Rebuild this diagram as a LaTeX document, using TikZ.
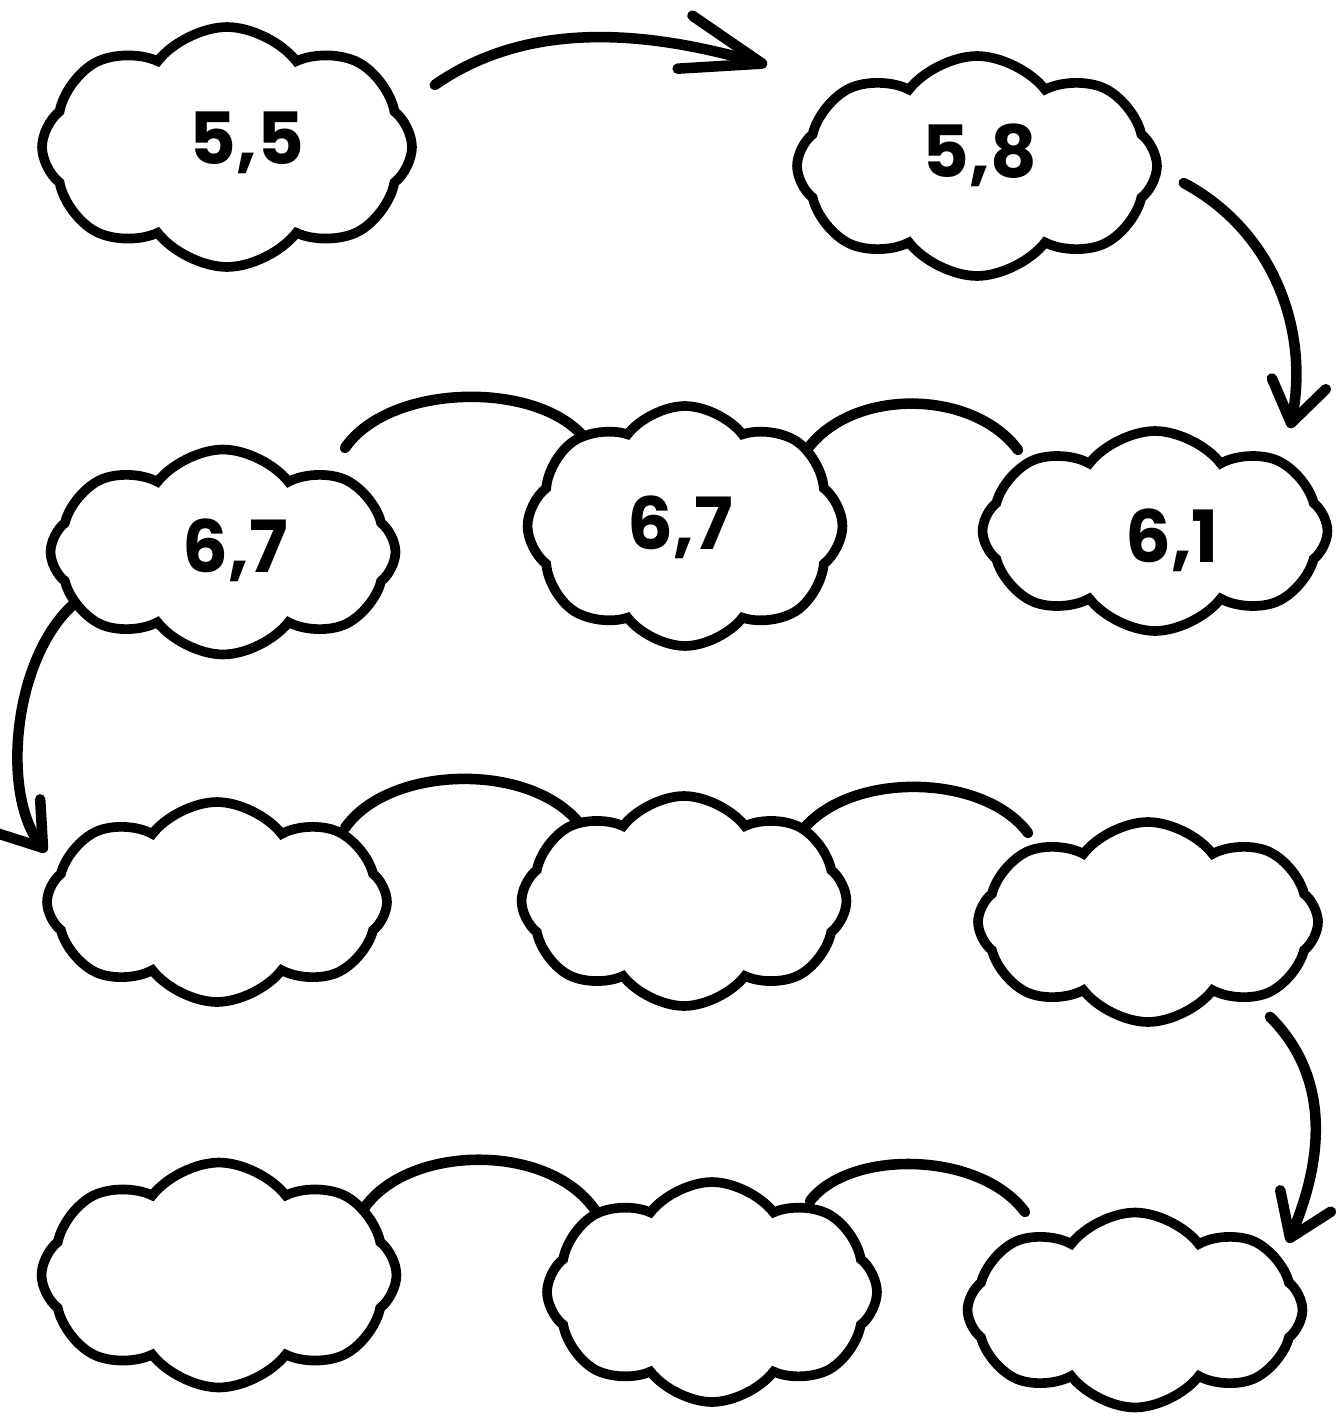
\documentclass[tikz,border=0pt]{standalone}
\usepackage{fontspec}
\newfontfamily\numfont{Poppins}
\usetikzlibrary{positioning,arrows,arrows.meta,shapes.symbols,backgrounds}

\begin{document}
\begin{tikzpicture}[x=0.02cm,y=-0.02cm,
  every node/.style={align=center},
  blob/.style={cloud,draw,fill=white,line width=5.5pt,cloud puffs=8,cloud puff arc=105,aspect=1.6,inner sep=0pt},
  val/.style={font=\numfont\bfseries\fontsize{41}{45}\selectfont},
  link/.style={line width=6pt,line cap=round},
  jump/.style={link,-{Straight Barb[length=0.8cm,width=1.1cm,round]}}
]
\useasboundingbox (0,0) rectangle (1339,1416);

% row 1
\node[blob,minimum width=7.4cm,minimum height=4.8cm] (c55) at (227,147) {};
\node[blob,minimum width=7.2cm,minimum height=4.4cm] (c58) at (977,166) {};
% row 2
\node[blob,minimum width=6.9cm,minimum height=4.1cm] (c67a) at (223,552) {};
\node[blob,minimum width=6.3cm,minimum height=4.8cm] (c67b) at (685,526) {};
\node[blob,minimum width=6.9cm,minimum height=4.0cm] (c61) at (1155,531) {};
% row 3
\node[blob,minimum width=6.8cm,minimum height=4.0cm] (r3a) at (217,902) {};
\node[blob,minimum width=6.5cm,minimum height=4.2cm] (r3b) at (684,901) {};
\node[blob,minimum width=6.8cm,minimum height=4.0cm] (r3c) at (1148,922) {};
% row 4
\node[blob,minimum width=7.1cm,minimum height=4.5cm] (r4a) at (219,1275) {};
\node[blob,minimum width=6.6cm,minimum height=4.4cm] (r4b) at (712,1292) {};
\node[blob,minimum width=6.7cm,minimum height=3.9cm] (r4c) at (1135,1310) {};

% values
\node[val] (t55) at (247,143) {5,5};
\node[val] (t58) at (980,155) {5,8};
\node[val] (t67a) at (235,550) {6,7};
\node[val] (t67b) at (680,527) {6,7};
\node[val] (t61) at (1172,540) {6,1};

% arrows between rows
\draw[link,-{Straight Barb[length=1.6cm,width=1.1cm,round]}]
  ([shift={(18,-62)}]c55.east) .. controls +(107,-75) and +(-90,-25) .. ([shift={(-25,-101)}]c58.west);
\draw[jump] ([shift={(22,17)}]c58.east) .. controls +(88,47) and +(20,-100) .. ([shift={(135,2)}]c61.north);
\draw[jump] ([shift={(27,53)}]c67a.west) .. controls +(-60,55) and +(-45,-58) .. ([shift={(4,-50)}]r3a.west);
\draw[jump] ([shift={(122,-10)}]r3c.south) .. controls +(55,55) and +(40,-95) .. ([shift={(153,35)}]r4c.north);

% arcs, behind the clouds
\begin{pgfonlayer}{background}
\draw[link] ([shift={(122,-104)}]c67a.center) .. controls +(45,-66) and +(-45,-61) .. ([shift={(-98,-85)}]c67b.center);
\draw[link] ([shift={(121,-75)}]c67b.center) .. controls +(45,-64) and +(-45,-61) .. ([shift={(-137,-81)}]c61.center);
\draw[link] ([shift={(128,-74)}]r3a.center) .. controls +(45,-65) and +(-45,-70) .. ([shift={(-99,-70)}]r3b.center);
\draw[link] ([shift={(114,-65)}]r3b.center) .. controls +(45,-66) and +(-45,-61) .. ([shift={(-120,-89)}]r3c.center);
\draw[link] ([shift={(146,-68)}]r4a.center) .. controls +(45,-63) and +(-45,-71) .. ([shift={(-115,-79)}]r4b.center);
\draw[link] ([shift={(98,-91)}]r4b.center) .. controls +(40,-52) and +(-45,-61) .. ([shift={(-110,-98)}]r4c.center);
\end{pgfonlayer}
\end{tikzpicture}
\end{document}
